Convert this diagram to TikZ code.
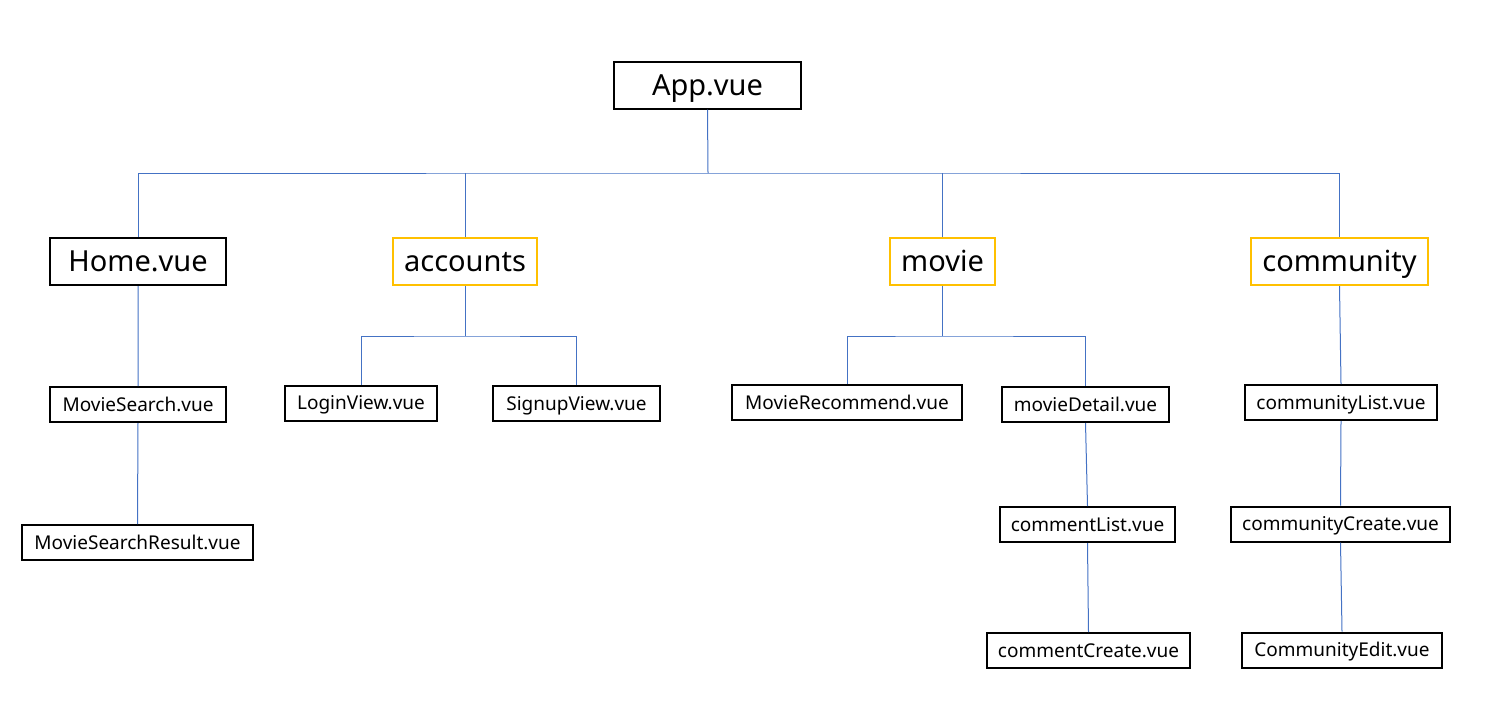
\documentclass[tikz,border=0pt]{standalone}
\usepackage{fontspec}
\setmainfont{Noto Sans}
\definecolor{folderyellow}{HTML}{FFC000}
\definecolor{linkblue}{HTML}{4472C4}

\begin{document}
\begin{tikzpicture}[x=1pt,y=-1pt,
  box/.style={draw=black,line width=2pt,inner sep=0pt,minimum height=35pt,
    text height=13.6pt,text depth=0pt,font=\fontsize{19}{22}\selectfont},
  bigbox/.style={box,minimum height=47pt,text height=20.7pt,font=\fontsize{29}{34}\selectfont},
  folder/.style={bigbox,draw=folderyellow},
  link/.style={draw=linkblue,line width=1pt}]
\useasboundingbox (0,0) rectangle (1498,713);

\node[bigbox,minimum width=187pt] (app) at (707.5,85) {App.vue};
\coordinate (bus) at (708,173);

\node[bigbox,minimum width=176pt] (home) at (138,261.5) {Home.vue};
\node[folder,minimum width=144pt] (accounts) at (465,261.5) {accounts};
\node[folder,minimum width=105pt] (movie) at (942.5,261.5) {movie};
\node[folder,minimum width=177pt] (community) at (1339.5,261.5) {community};

\node[box,minimum width=176pt] (moviesearch) at (138,404.5) {MovieSearch.vue};
\node[box,minimum width=231pt] (searchresult) at (137.5,542.5) {MovieSearchResult.vue};
\node[box,minimum width=152pt] (login) at (361,403) {LoginView.vue};
\node[box,minimum width=167pt] (signup) at (576.5,403.5) {SignupView.vue};
\node[box,minimum width=230pt] (recommend) at (847,402.5) {MovieRecommend.vue};
\node[box,minimum width=167pt] (detail) at (1085.5,404.5) {movieDetail.vue};
\node[box,minimum width=175pt] (commentlist) at (1087.5,524.5) {commentList.vue};
\node[box,minimum width=203pt] (commentcreate) at (1088.5,650.5) {commentCreate.vue};
\node[box,minimum width=192pt] (communitylist) at (1341,402.5) {communityList.vue};
\node[box,minimum width=219pt] (communitycreate) at (1340.5,524) {communityCreate.vue};
\node[box,minimum width=200pt] (communityedit) at (1342,650) {CommunityEdit.vue};

\draw[link] (app.south) -- (bus);
\draw[link] (home.north) |- (bus) -| (community.north);
\draw[link] (accounts.north) -- (accounts.north |- bus);
\draw[link] (movie.north) -- (movie.north |- bus);

\draw[link] (home.south) -- (moviesearch.north) (moviesearch.south) -- (searchresult.north);

\draw[link] (accounts.south) -- ++(0,50) coordinate (accbus);
\draw[link] (login.north) |- (accbus) -| (signup.north);

\draw[link] (movie.south) -- ++(0,50) coordinate (moviebus);
\draw[link] (recommend.north) |- (moviebus) -| (detail.north);
\draw[link] (detail.south) -- (commentlist.north) (commentlist.south) -- (commentcreate.north);

\draw[link] (community.south) -- (communitylist.north) (communitylist.south) -- (communitycreate.north)
  (communitycreate.south) -- (communityedit.north);
\end{tikzpicture}
\end{document}
